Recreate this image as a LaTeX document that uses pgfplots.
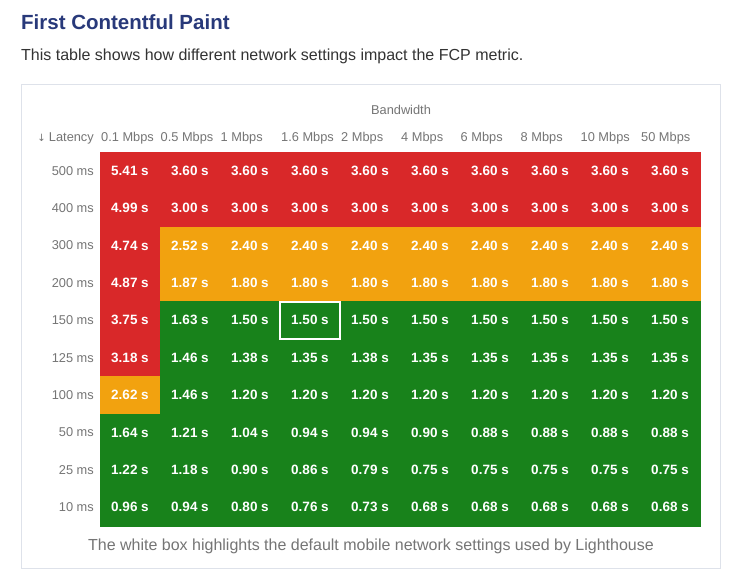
\documentclass[border=0pt]{standalone}
\usepackage{fontspec}
\setmainfont{Liberation Sans}
\usepackage{pgfplots}
\pgfplotsset{compat=1.18}
\usepackage{pgfplotstable}
\definecolor{fcpred}{RGB}{217,40,41}
\definecolor{fcporange}{RGB}{242,162,15}
\definecolor{fcpgreen}{RGB}{24,130,27}
\definecolor{titleblue}{RGB}{40,57,122}
\definecolor{labelgray}{RGB}{117,117,117}
\definecolor{subtext}{RGB}{51,51,51}
\definecolor{boxline}{RGB}{222,226,234}

% x = bandwidth column, y = latency row (0 = 500 ms), c = class (0 green, 1 orange, 2 red), v = FCP in s
\pgfplotstableread{
x y c v
0 0 2 5.41
1 0 2 3.60
2 0 2 3.60
3 0 2 3.60
4 0 2 3.60
5 0 2 3.60
6 0 2 3.60
7 0 2 3.60
8 0 2 3.60
9 0 2 3.60
0 1 2 4.99
1 1 2 3.00
2 1 2 3.00
3 1 2 3.00
4 1 2 3.00
5 1 2 3.00
6 1 2 3.00
7 1 2 3.00
8 1 2 3.00
9 1 2 3.00
0 2 2 4.74
1 2 1 2.52
2 2 1 2.40
3 2 1 2.40
4 2 1 2.40
5 2 1 2.40
6 2 1 2.40
7 2 1 2.40
8 2 1 2.40
9 2 1 2.40
0 3 2 4.87
1 3 1 1.87
2 3 1 1.80
3 3 1 1.80
4 3 1 1.80
5 3 1 1.80
6 3 1 1.80
7 3 1 1.80
8 3 1 1.80
9 3 1 1.80
0 4 2 3.75
1 4 0 1.63
2 4 0 1.50
3 4 0 1.50
4 4 0 1.50
5 4 0 1.50
6 4 0 1.50
7 4 0 1.50
8 4 0 1.50
9 4 0 1.50
0 5 2 3.18
1 5 0 1.46
2 5 0 1.38
3 5 0 1.35
4 5 0 1.38
5 5 0 1.35
6 5 0 1.35
7 5 0 1.35
8 5 0 1.35
9 5 0 1.35
0 6 1 2.62
1 6 0 1.46
2 6 0 1.20
3 6 0 1.20
4 6 0 1.20
5 6 0 1.20
6 6 0 1.20
7 6 0 1.20
8 6 0 1.20
9 6 0 1.20
0 7 0 1.64
1 7 0 1.21
2 7 0 1.04
3 7 0 0.94
4 7 0 0.94
5 7 0 0.90
6 7 0 0.88
7 7 0 0.88
8 7 0 0.88
9 7 0 0.88
0 8 0 1.22
1 8 0 1.18
2 8 0 0.90
3 8 0 0.86
4 8 0 0.79
5 8 0 0.75
6 8 0 0.75
7 8 0 0.75
8 8 0 0.75
9 8 0 0.75
0 9 0 0.96
1 9 0 0.94
2 9 0 0.80
3 9 0 0.76
4 9 0 0.73
5 9 0 0.68
6 9 0 0.68
7 9 0 0.68
8 9 0 0.68
9 9 0 0.68
}\fcpdata

\begin{document}
\begin{tikzpicture}
\useasboundingbox (0pt,0pt) rectangle (746pt,-586pt);
\fill[white] (0pt,0pt) rectangle (746pt,-586pt);

% title and subtitle
\node[anchor=base west, inner sep=0pt, text=titleblue, font=\fontsize{20.5}{24}\selectfont\bfseries] at (21pt,-30pt) {First Contentful Paint};
\node[anchor=base west, inner sep=0pt, text=subtext, font=\fontsize{16}{19}\selectfont] at (21pt,-60pt) {This table shows how different network settings impact the FCP metric.};

% card border
\draw[boxline, line width=1pt] (21.5pt,-84.5pt) rectangle (720.5pt,-568.5pt);

\begin{axis}[
  at={(100pt,-152pt)}, anchor=north west,
  scale only axis, width=600pt, height=374pt,
  xmin=-0.5, xmax=9.5, ymin=-0.5, ymax=9.5,
  y dir=reverse,
  axis line style={draw=none},
  tick style={draw=none},
  xtick=\empty,
  ytick={0,1,2,3,4,5,6,7,8,9},
  yticklabels={500 ms,400 ms,300 ms,200 ms,150 ms,125 ms,100 ms,50 ms,25 ms,10 ms},
  yticklabel shift=6pt,
  yticklabel style={anchor=east, inner sep=0pt, text=labelgray, font=\fontsize{12.8}{15}\selectfont},
  colormap={fcp}{rgb255=(24,130,27) rgb255=(242,162,15) rgb255=(217,40,41)},
  colormap access=direct,
  clip=false,
]
\addplot[matrix plot*, mesh/cols=10, point meta=explicit] table[x=x, y=y, meta=c] {\fcpdata};
\addplot[draw=none, mark=none,
  point meta=explicit symbolic,
  nodes near coords={\pgfplotspointmeta\ s},
  nodes near coords align=center,
  every node near coord/.append style={anchor=center, text=white, font=\fontsize{13.5}{16}\selectfont\bfseries},
] table[x=x, y=y, meta=v] {\fcpdata};
\draw[white, line width=2.2pt] (axis cs:2.5,3.5) rectangle (axis cs:3.5,4.5);
\end{axis}

% header labels
\node[anchor=base, inner sep=0pt, text=labelgray, font=\fontsize{12.8}{15}\selectfont] at (401pt,-114.6pt) {Bandwidth};
\begin{scope}[every node/.style={anchor=base west, inner sep=0pt, text=labelgray, font=\fontsize{12.8}{15}\selectfont}]
\node[anchor=base east] at (94pt,-141pt) {\fontspec{DejaVu Sans}\fontsize{10}{12}\selectfont ↓\ \normalfont\fontsize{12.8}{15}\selectfont Latency};
\node at (101pt,-141pt) {0.1 Mbps};
\node at (160.5pt,-141pt) {0.5 Mbps};
\node at (220.5pt,-141pt) {1 Mbps};
\node at (281pt,-141pt) {1.6 Mbps};
\node at (341pt,-141pt) {2 Mbps};
\node at (401pt,-141pt) {4 Mbps};
\node at (460.5pt,-141pt) {6 Mbps};
\node at (520.5pt,-141pt) {8 Mbps};
\node at (580.5pt,-141pt) {10 Mbps};
\node at (641pt,-141pt) {50 Mbps};
\end{scope}

% caption
\node[anchor=base, inner sep=0pt, text=labelgray, font=\fontsize{16}{19}\selectfont] at (371pt,-550.5pt) {The white box highlights the default mobile network settings used by Lighthouse};
\end{tikzpicture}
\end{document}
